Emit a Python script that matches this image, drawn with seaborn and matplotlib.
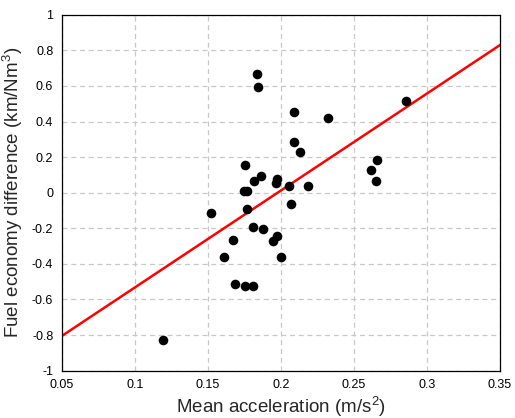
import numpy as np
import pandas as pd
import matplotlib
matplotlib.use("Agg")
import matplotlib.pyplot as plt
from matplotlib.ticker import FuncFormatter
import seaborn as sns

# Measured points: mean acceleration (m/s^2) vs fuel economy difference (km/Nm^3)
mean_accel = [0.1839, 0.1846, 0.2088, 0.2325, 0.2857, 0.2088, 0.2128, 0.1757,
              0.1861, 0.1818, 0.1977, 0.1969, 0.2054, 0.2186, 0.1751, 0.1765,
              0.2069, 0.1522, 0.1770, 0.1811, 0.1881, 0.1674, 0.1972, 0.1944,
              0.1611, 0.2001, 0.1688, 0.1758, 0.1811, 0.1193, 0.2660, 0.2615,
              0.2651]
fuel_diff = [0.667, 0.596, 0.455, 0.418, 0.517, 0.285, 0.226, 0.154,
             0.096, 0.066, 0.079, 0.053, 0.038, 0.038, 0.012, 0.007,
             -0.062, -0.116, -0.093, -0.193, -0.204, -0.263, -0.243, -0.273,
             -0.363, -0.363, -0.515, -0.527, -0.527, -0.828, 0.184, 0.126,
             0.067]

# Linear trend line parameters
fit_slope = 5.45
fit_intercept = -1.078

x_ticks = [0.05, 0.1, 0.15, 0.2, 0.25, 0.3, 0.35]
y_ticks = [-1, -0.8, -0.6, -0.4, -0.2, 0, 0.2, 0.4, 0.6, 0.8, 1]

sns.set_theme(style="white")
plt.rcParams["font.family"] = ["Liberation Sans", "DejaVu Sans"]
plt.rcParams["mathtext.fontset"] = "custom"
plt.rcParams["mathtext.rm"] = "Liberation Sans"
plt.rcParams["mathtext.it"] = "Liberation Sans"
plt.rcParams["axes.unicode_minus"] = False

fig = plt.figure(figsize=(5.15, 4.18), dpi=100)
ax = fig.add_axes([0.1198, 0.1132, 0.8511, 0.8516])

df = pd.DataFrame({"accel": mean_accel, "diff": fuel_diff})
line_x = np.array([x_ticks[0], x_ticks[-1]])
line_df = pd.DataFrame({"accel": line_x, "diff": fit_slope * line_x + fit_intercept})

sns.lineplot(data=line_df, x="accel", y="diff", color="#ff0000", linewidth=1.8, ax=ax, zorder=2)
sns.scatterplot(data=df, x="accel", y="diff", color="black", s=48, edgecolor="black",
                linewidth=0, ax=ax, zorder=3)

ax.set_xlim(x_ticks[0], x_ticks[-1])
ax.set_ylim(y_ticks[0], y_ticks[-1])
ax.set_xticks(x_ticks)
ax.set_yticks(y_ticks)
fmt = FuncFormatter(lambda v, p: "%g" % round(v, 3))
ax.xaxis.set_major_formatter(fmt)
ax.yaxis.set_major_formatter(fmt)

ax.grid(True, color="#c8c8c8", linestyle=(0, (4, 3)), linewidth=0.9)
ax.set_axisbelow(True)
for sp in ax.spines.values():
    sp.set_color("black")
    sp.set_linewidth(0.9)
ax.tick_params(axis="both", which="major", direction="in", length=0, width=0.7,
               labelsize=9, colors="black", pad=6)

ax.set_xlabel("Mean acceleration (m/s$^{2}$)", fontsize=13.5, labelpad=3)
ax.set_ylabel("Fuel economy difference (km/Nm$^{3}$)", fontsize=13.5, labelpad=5)

fig.savefig("out.png", dpi=100)
